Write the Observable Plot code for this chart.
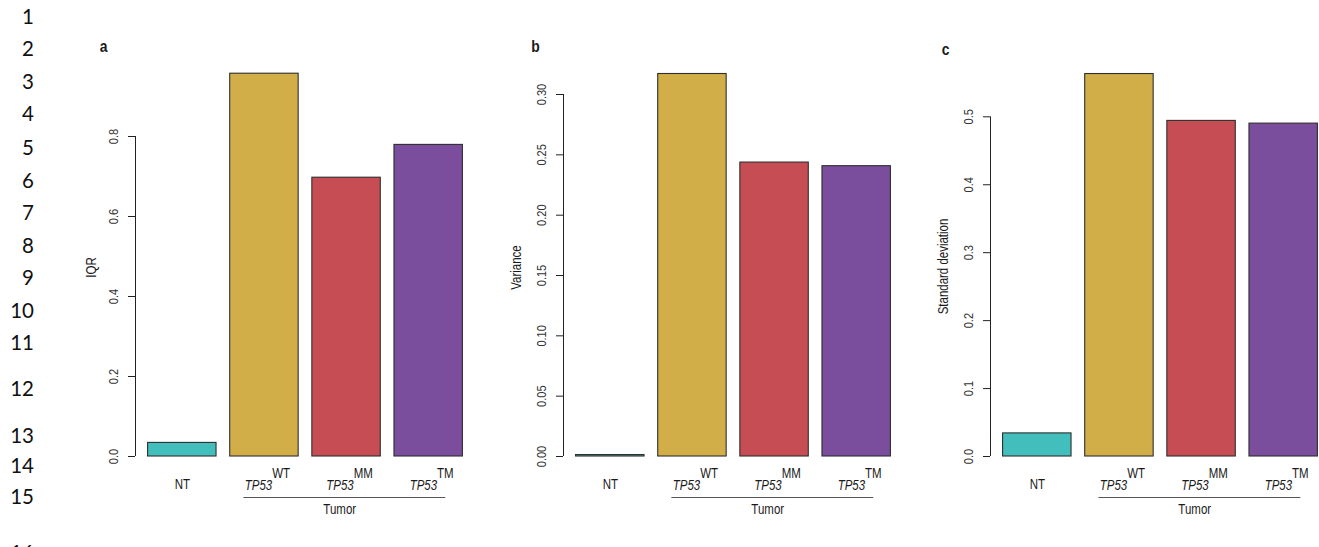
<!DOCTYPE html>
<html><head><meta charset="utf-8">
<script src="https://cdn.jsdelivr.net/npm/d3@7"></script>
<script src="https://cdn.jsdelivr.net/npm/@observablehq/plot@0.6"></script>
<style>
html,body{margin:0;padding:0;background:#fff;}
#fig{position:relative;width:1319px;height:547px;overflow:hidden;background:#fff;}
#fig svg{position:absolute;top:0;}
.ln{position:absolute;left:0;width:34px;text-align:right;font-family:Lato,"Noto Sans",sans-serif;font-size:20.5px;line-height:1;color:#111;transform:translateY(-50%);}
</style></head><body><div id="fig"></div>
<script>
// ---- data ----
const groups = ["NT", "WT", "MM", "TM"];
const groupLabels = ["NT", "TP53|WT", "TP53|MM", "TP53|TM"];
const groupColors = ["#42BFBD", "#D2AE48", "#C54D53", "#7B4D9D"];
const iqrValues = [0.034, 0.957, 0.697, 0.779];
const varianceValues = [0.0012, 0.317, 0.2436, 0.2406];
const sdValues = [0.034, 0.563, 0.494, 0.490];
const iqrTicks = [0, 0.2, 0.4, 0.6, 0.8];
const varianceTicks = [0, 0.05, 0.10, 0.15, 0.20, 0.25, 0.30];
const sdTicks = [0, 0.1, 0.2, 0.3, 0.4, 0.5];
const panelLetters = ["a", "b", "c"];
const yTitles = ["IQR", "Variance", "Standard deviation"];
const tumorLabel = "Tumor";
const lineNumbers = [1, 2, 3, 4, 5, 6, 7, 8, 9, 10, 11, 12, 13, 14, 15, 16];

// ---- layout ----
const lineTops = [16, 48, 81, 113, 147, 180, 212, 245, 277, 310, 342, 388, 435, 465, 496, 552];
const FONT = '"Liberation Sans",Arial,sans-serif';
const NARROW = 0.82;
const fig = document.getElementById("fig");

lineNumbers.forEach((n, k) => {
  const d = document.createElement("div");
  d.className = "ln"; d.style.top = lineTops[k] + "px"; d.textContent = n;
  fig.appendChild(d);
});

function narrowText(svg) {
  d3.select(svg).selectAll("text").each(function () {
    const t = this.textContent;
    if (t.includes("|")) {
      const [a, b] = t.split("|");
      const s = d3.select(this); s.text(null);
      s.append("tspan").attr("font-style", "italic").text(a);
      s.append("tspan").attr("dy", "-0.82em").text(b);
    }
    const x = this.getAttribute("x");
    let tr = this.getAttribute("transform") || "";
    if (x != null && !/em/.test(x)) {
      tr = `translate(${x},0) ` + tr;
      this.setAttribute("x", 0);
    }
    this.setAttribute("transform", (tr + ` scale(${NARROW},1)`).trim());
  });
}

function panel(k, values, ticks, fmt, opt) {
  const rows = groups.map((g, i) => ({g, label: groupLabels[i], v: values[i],
    x1: 0.2 + 1.2 * i, x2: 1.2 + 1.2 * i, xc: 0.7 + 1.2 * i}));
  const tumor = rows.slice(1);
  const xMin = 0.016, xMax = 4.984;
  const lineX1 = tumor[0].x1 + 0.2, lineX2 = tumor[tumor.length - 1].x2 - 0.25;
  const tumorX = (tumor[0].xc + tumor[tumor.length - 1].xc) / 2 - 0.1;
  const svg = Plot.plot({
    width: 475, height: 547, marginLeft: 135, marginRight: 0, marginTop: 56, marginBottom: 91,
    x: {domain: [xMin, xMax], axis: null},
    y: {domain: [0, opt.ymax], axis: null},
    color: {domain: groups, range: groupColors},
    style: {fontFamily: FONT, color: "#1a1a1a", background: "transparent", overflow: "visible"},
    marks: [
      Plot.rectY(rows, {x1: "x1", x2: "x2", y1: 0, y2: "v", fill: "g", stroke: "#2e2e2e", strokeWidth: 1.1}),
      Plot.ruleX([xMin], {y1: 0, y2: ticks[ticks.length - 1], stroke: "#222"}),
      Plot.axisY(ticks, {tickSize: 7, tickFormat: () => "", label: null, stroke: "#222"}),
      Plot.text(ticks, {y: d => d, text: d => fmt(d), frameAnchor: "left", textAnchor: "middle", rotate: -90, dx: -22, fontSize: 13.5, fill: "#333"}),
      Plot.text([yTitles[k]], {frameAnchor: "left", textAnchor: "middle", rotate: -90, dx: opt.titleDx, dy: opt.titleDy, fontSize: 14}),
      Plot.text([panelLetters[k]], {frameAnchor: "top-left", textAnchor: "middle", dx: opt.letterDx, dy: opt.letterDy, lineAnchor: "bottom", fontSize: 17, fontWeight: "bold"}),
      Plot.text(rows, {filter: d => !d.label.includes("|"), x: "xc", y: 0, text: "label", dy: 32, lineAnchor: "bottom", fontSize: 14}),
      Plot.text(rows, {filter: d => d.label.includes("|"), x: "xc", y: 0, text: "label", dx: 3, dy: 33, lineAnchor: "bottom", fontSize: 14}),
      Plot.ruleY([0], {x1: lineX1, x2: lineX2, dy: 41, stroke: "#555"}),
      Plot.text([tumorLabel], {x: tumorX, y: 0, dy: 57, lineAnchor: "bottom", fontSize: 14})
    ]
  });
  narrowText(svg);
  svg.style.left = opt.left + "px";
  fig.appendChild(svg);
}

const f1 = d3.format(".1f"), f2 = d3.format(".2f");
panel(0, iqrValues, iqrTicks, f1, {left: 0, ymax: 1.0, titleDx: -44, titleDy: 11, letterDx: -32, letterDy: -5});
panel(1, varianceValues, varianceTicks, f2, {left: 427.7, ymax: 0.3315, titleDx: -47, titleDy: 11, letterDx: -28, letterDy: -5});
panel(2, sdValues, sdTicks, f1, {left: 855, ymax: 0.5888, titleDx: -47, titleDy: 10, letterDx: -45, letterDy: -2});
</script></body></html>
